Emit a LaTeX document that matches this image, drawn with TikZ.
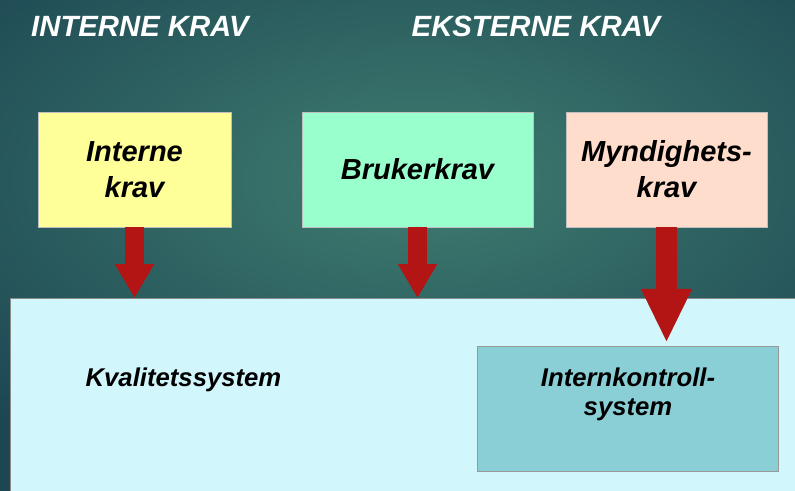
\documentclass[tikz,border=0pt]{standalone}
\usepackage{fontspec}
\setmainfont{Liberation Sans}
\usetikzlibrary{arrows.meta}
\definecolor{bgmid}{HTML}{3F7C70}
\definecolor{bgdark}{HTML}{1C4652}
\definecolor{gul}{HTML}{FFFF99}
\definecolor{gronn}{HTML}{99FFCC}
\definecolor{fersken}{HTML}{FFDDCC}
\definecolor{lysblaa}{HTML}{D1F7FC}
\definecolor{turkis}{HTML}{8ACFD6}
\definecolor{pilrod}{HTML}{B31515}
\begin{document}
\begin{tikzpicture}[x=1pt, y=-1pt]
        \tikzstyle{every node}=[font=\fontsize{25.7}{29}\selectfont\bfseries\itshape]
        \tikzstyle{krav}=[draw=black!25, minimum height=115pt, align=center,
          font=\fontsize{29}{36}\selectfont\bfseries\itshape]
        \tikzstyle{tittel}=[text=white, font=\fontsize{29.3}{32}\selectfont\bfseries\itshape]
        \tikzstyle{pil}=[draw=pilrod, line width=#1]

        \useasboundingbox (0,0) rectangle (795,490);
        \shade[inner color=bgmid, outer color=bgdark] (-200,-150) rectangle (1040,510);

        \path (140,26) node[tittel] (tint) {INTERNE KRAV};
        \path (536,26) node[tittel] (text) {EKSTERNE KRAV};

        \path (134.5,169.5) node[krav, fill=gul, minimum width=193pt] (ik) {Interne\\krav};
        \path (417.5,169.5) node[krav, fill=gronn, minimum width=231pt] (bk) {Brukerkrav};
        \path (666.5,169.5) node[krav, fill=fersken, minimum width=201pt] (mk) {Myndighets-\\krav};

        \path (10,298) node[anchor=north west, fill=lysblaa, draw=black!45,
          minimum width=800pt, minimum height=200pt] (kval) {};
        \path (183.5,380) node (kvaltekst) {Kvalitetssystem};

        \path (627.5,408.5) node[fill=turkis, draw=black!40, minimum width=301pt,
          minimum height=125pt] (ikon) {};
        \path (628,394) node[align=center] (ikontekst) {Internkontroll-\\system};

        \draw[pil=19pt, -{Triangle[width=37pt, length=34pt]}]
          (ik.south) -- (ik.south |- kval.north);
        \draw[pil=19pt, -{Triangle[width=37pt, length=34pt]}]
          (bk.south) -- (bk.south |- kval.north);
        \draw[pil=21pt, -{Triangle[width=47pt, length=54pt]}]
          (mk.south) -- ([yshift=3pt]mk.south |- ikon.north);
      \end{tikzpicture}
\end{document}
